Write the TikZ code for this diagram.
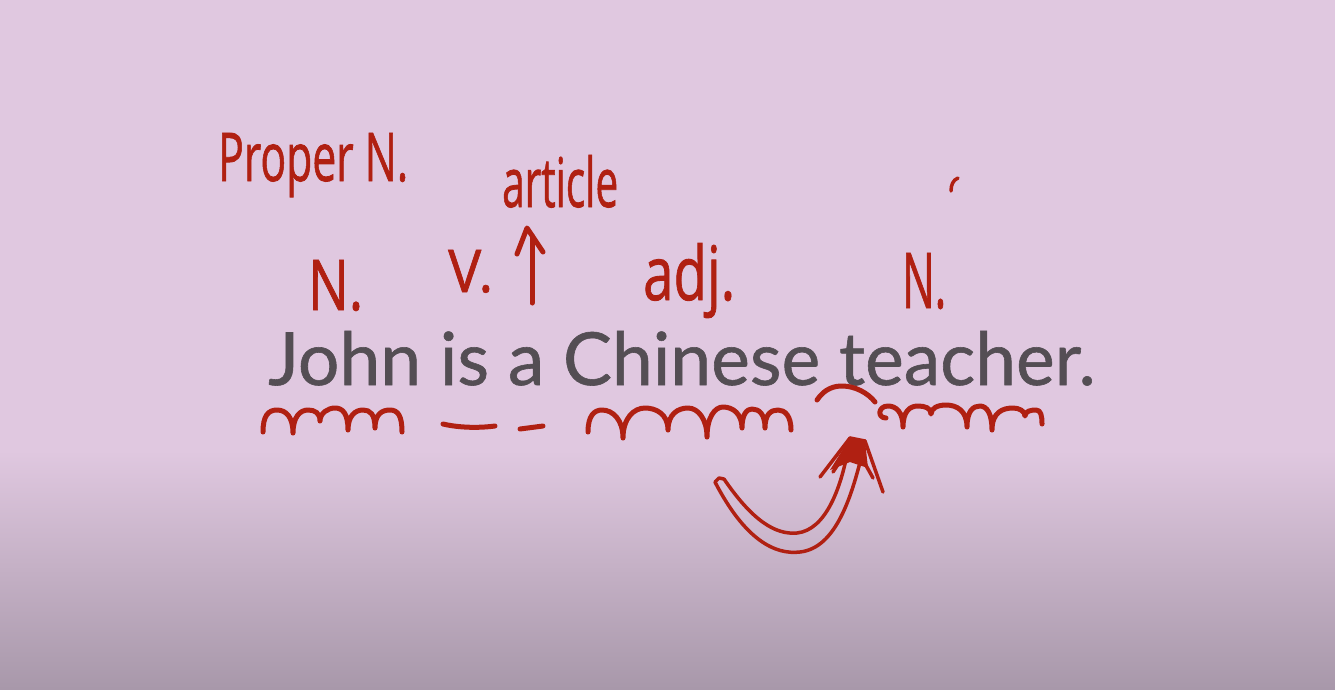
\documentclass[tikz,border=0pt]{standalone}
\usepackage{fontspec}
\usepackage{graphicx}
\setmainfont{Lato}[FakeBold=0.8]
\newfontfamily\hwfont{Open Sans}[FakeBold=1.2]
\definecolor{bgtop}{RGB}{224,200,224}
\definecolor{bgbot}{RGB}{168,152,170}
\definecolor{inkred}{RGB}{176,32,18}
\definecolor{txtgray}{RGB}{84,78,84}
\newcommand\hwlabel[3]{\resizebox{#1pt}{#2pt}{\hwfont #3}}
\begin{document}
\begin{tikzpicture}[x=1pt,y=-1pt,
  ink/.style={draw=inkred,line width=5pt,line cap=round,line join=round},
  thinink/.style={draw=inkred,line width=3.5pt,line cap=round,line join=round},
  hw/.style={anchor=base west,inner sep=0pt,text=inkred},
  main/.style={anchor=base west,inner sep=0pt,text=txtgray}]
\useasboundingbox (0,0) rectangle (1335,689);
\fill[bgtop] (0,0) rectangle (1335,451);
\shade[top color=bgtop,bottom color=bgbot] (0,450) rectangle (1335,689);

% main sentence
\node[main] (sent) at (268,385) {\resizebox{827pt}{54pt}{John is a Chinese teacher.}};

% handwritten labels
\node[hw] (proper) at (218,181) {\hwlabel{190}{48}{Proper N.}};
\node[hw] (article) at (502,207) {\hwlabel{116}{52}{article}};
\node[hw] (n1) at (308,310) {\hwlabel{55}{50}{N.}};
\node[hw] (v) at (448,292) {\hwlabel{45}{42}{V.}};
\node[hw] (adj) at (643,300) {\hwlabel{92}{57}{adj.}};
\node[hw] (n2) at (902,308) {\hwlabel{44}{55}{N.}};

% article arrow
\coordinate (arrBot) at (532,303);
\coordinate (arrTop) at (527,228);
\draw[ink] (arrBot) -- (532,236);
\draw[ink] (517,254) -- (arrTop) -- (543,252);

% stray mark
\draw[thinink] (951,191) .. controls (951,185) and (953,180) .. (958,178);

% squiggle under John
\draw[ink] (263,432)
  .. controls +(0,-16) and +(-9,0) .. (277,410) .. controls +(9,0) and +(0,-16) .. (293,433)
  .. controls +(0,-16) and +(-8,0) .. (308,410) .. controls +(7,0) and +(0,-8) .. (320,421)
  .. controls +(0,-8) and +(-7,0) .. (335,408) .. controls +(8,0) and +(0,-16) .. (348,430)
  .. controls +(0,-14) and +(-8,0) .. (363,410) .. controls +(7,0) and +(0,-14) .. (375,428)
  .. controls +(0,-14) and +(-8,0) .. (390,410) .. controls +(8,0) and +(0,-16) .. (402,432);

% dashes under is, a
\draw[ink] (443,424) .. controls (460,428) and (480,428) .. (495,426);
\draw[ink] (520,429) -- (543,426);

% squiggle under Chinese
\draw[ink] (588,432)
  .. controls +(0,-16) and +(-8,0) .. (602,410) .. controls +(11,0) and +(0,-18) .. (623,438)
  .. controls +(0,-20) and +(-11,0) .. (645,408) .. controls +(11,0) and +(0,-16) .. (668,430)
  .. controls +(0,-16) and +(-10,0) .. (688,408) .. controls +(10,0) and +(0,-18) .. (707,437)
  .. controls +(0,-20) and +(-8,0) .. (723,407) .. controls +(10,0) and +(0,-14) .. (742,428)
  .. controls +(0,-14) and +(-5,0) .. (752,409) .. controls +(7,0) and +(0,-14) .. (765,428)
  .. controls +(0,-14) and +(-7,0) .. (778,410) .. controls +(7,0) and +(0,-14) .. (791,430);

% cap between Chinese and teacher
\draw[ink] (817,400) .. controls (825,388) and (835,386) .. (842,386) .. controls (855,386) and (868,393) .. (875,402);

% squiggle under teacher
\draw[ink] (886,418) .. controls (877,418) and (878,406) .. (888,406)
  .. controls (896,406) and (903,412) .. (903,427)
  .. controls +(0,-16) and +(-8,0) .. (918,406) .. controls +(7,0) and +(0,-6) .. (931,414)
  .. controls +(0,-6) and +(-8,0) .. (946,405) .. controls +(11,0) and +(0,-16) .. (967,427)
  .. controls +(0,-16) and +(-7,0) .. (980,406) .. controls +(7,0) and +(0,-16) .. (992,430)
  .. controls +(0,-18) and +(-10,0) .. (1013,408) .. controls +(6,0) and +(0,-5) .. (1025,416)
  .. controls +(0,-5) and +(-5,0) .. (1036,410) .. controls +(5,0) and +(0,-8) .. (1042,424);

% double curved arrow
\coordinate (outS) at (715,482);
\coordinate (inS) at (724,479);
\coordinate (tipA) at (850,438);
\coordinate (tipB) at (865,441);
\draw[thinink] (outS) .. controls (745,540) and (775,555) .. (800,552) .. controls (835,548) and (852,500) .. (tipB);
\draw[thinink] (inS) .. controls (752,520) and (775,535) .. (797,533) .. controls (825,530) and (842,490) .. (tipA);
\draw[thinink] (outS) -- (719,478) -- (inS);
\fill[inkred] (830,470) -- (tipA) -- (tipB) -- (868,468) -- (850,462) -- cycle;
\draw[thinink] (820,477) -- (tipA) -- (tipB) -- (883,492);
\draw[thinink] (833,472) -- (853,442) -- (873,478);
\end{tikzpicture}
\end{document}
